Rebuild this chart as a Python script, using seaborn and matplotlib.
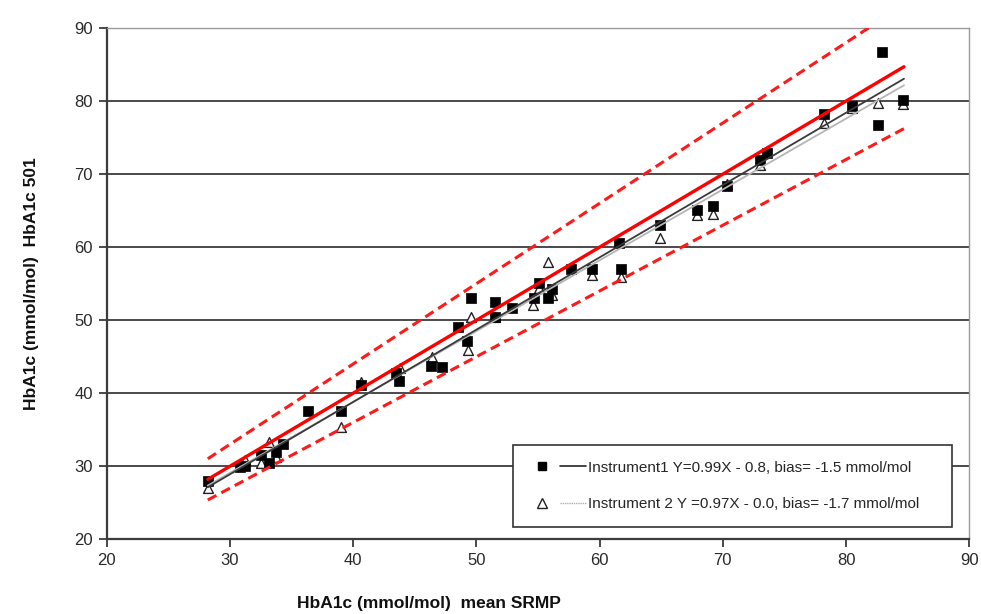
import matplotlib
matplotlib.use("Agg")
import matplotlib.pyplot as plt
from matplotlib.lines import Line2D
from matplotlib.legend_handler import HandlerTuple
import numpy as np
import pandas as pd
import seaborn as sns

# Instrument 1 (filled squares): mean SRMP vs. HbA1c 501
inst1_x = [28.2, 30.8, 31.2, 32.5, 33.2, 33.7, 34.3, 36.3, 39.0, 40.6,
           43.5, 43.7, 46.3, 47.2, 48.5, 49.2, 49.6, 51.5, 51.5, 52.9,
           54.7, 55.1, 55.8, 56.1, 57.7, 59.4, 61.6, 61.7, 64.9, 67.9,
           69.2, 70.3, 73.0, 73.6, 78.2, 80.5, 82.6, 82.9, 84.6]
inst1_y = [28.0, 29.9, 30.0, 31.5, 30.5, 32.0, 33.1, 37.5, 37.5, 41.1,
           42.7, 41.7, 43.7, 43.6, 49.1, 47.1, 53.1, 52.5, 50.5, 51.6,
           53.1, 55.1, 53.1, 54.2, 57.0, 57.0, 60.5, 57.0, 63.0, 65.1,
           65.6, 68.3, 71.9, 72.9, 78.2, 79.3, 76.7, 86.7, 80.2]

# Instrument 2 (open triangles)
inst2_x = [28.2, 31.2, 32.5, 33.2, 33.7, 39.0, 40.6, 43.8, 46.4, 49.3,
           49.6, 51.5, 54.6, 55.1, 55.8, 56.1, 59.4, 61.7, 64.9, 67.9,
           69.2, 70.3, 73.0, 78.2, 80.5, 82.6, 84.6]
inst2_y = [27.0, 30.8, 30.4, 33.3, 31.3, 35.4, 41.5, 43.4, 45.0, 45.9,
           50.4, 50.5, 52.1, 54.4, 58.0, 53.4, 56.2, 55.9, 61.3, 64.4,
           64.6, 68.7, 71.2, 77.0, 79.1, 79.7, 79.6]

# Regression fits stated in the legend: slope, intercept
fit1 = (0.99, -0.8)
fit2 = (0.97, 0.0)
label1 = "Instrument1 Y=0.99X - 0.8, bias= -1.5 mmol/mol"
label2 = "Instrument 2 Y =0.97X - 0.0, bias= -1.7 mmol/mol"

# Identity line and +/-10 % limits
limit_factors = [1.1, 0.9]

x_ticks = [20, 30, 40, 50, 60, 70, 80, 90]
y_ticks = [20, 30, 40, 50, 60, 70, 80, 90]

sns.set_theme(style="white")
plt.rcParams["font.family"] = ["Liberation Sans", "DejaVu Sans"]

fig = plt.figure(figsize=(9.81, 6.14), dpi=100)
ax = fig.add_axes([0.1088, 0.1217, 0.8793, 0.8327])

df1 = pd.DataFrame({"x": inst1_x, "y": inst1_y})
df2 = pd.DataFrame({"x": inst2_x, "y": inst2_y})

sns.scatterplot(data=df2, x="x", y="y", marker="^", s=50, facecolor="white",
                edgecolor="#222222", linewidth=1.0, ax=ax, zorder=3)
sns.scatterplot(data=df1, x="x", y="y", marker="s", s=42, color="black",
                edgecolor="black", linewidth=0.5, ax=ax, zorder=4)

x_lo = min(inst1_x + inst2_x)
x_hi = max(inst1_x + inst2_x) + 0.1
xs = np.array([x_lo, x_hi])

line_df = pd.DataFrame({
    "x": np.concatenate([xs] * 5),
    "y": np.concatenate([
        fit2[0] * xs + fit2[1],
        fit1[0] * xs + fit1[1],
        xs,
        limit_factors[0] * xs,
        limit_factors[1] * xs,
    ]),
    "line": ["fit2"] * 2 + ["fit1"] * 2 + ["identity"] * 2 + ["upper"] * 2 + ["lower"] * 2,
})

sns.lineplot(data=line_df[line_df["line"] == "fit2"], x="x", y="y",
             color="#b5b5b5", linewidth=1.3, ax=ax, zorder=5)
sns.lineplot(data=line_df[line_df["line"] == "fit1"], x="x", y="y",
             color="#3a3a3a", linewidth=1.3, ax=ax, zorder=5)
sns.lineplot(data=line_df[line_df["line"] == "identity"], x="x", y="y",
             color="#ff0000", linewidth=2.4, ax=ax, zorder=6)
for name in ["upper", "lower"]:
    sub = line_df[line_df["line"] == name]
    sns.lineplot(data=sub, x="x", y="y", color="#ff1a1a", linewidth=2.2,
                 style=sub["line"], dashes=[(3.2, 1.8)],
                 legend=False, ax=ax, zorder=6)

ax.set_xlim(20, 90)
ax.set_ylim(20, 90)
ax.set_xticks(x_ticks)
ax.set_yticks(y_ticks)
ax.set_xticklabels([str(t) for t in x_ticks])
ax.set_yticklabels([str(t) for t in y_ticks])

# Horizontal grid only
for yv in y_ticks[1:-1]:
    ax.axhline(yv, color="#3c3c3c", linewidth=1.3, zorder=1)

for side in ["left", "bottom"]:
    ax.spines[side].set_color("#3c3c3c")
    ax.spines[side].set_linewidth(1.6)
for side in ["top", "right"]:
    ax.spines[side].set_color("#9a9a9a")
    ax.spines[side].set_linewidth(1.0)

ax.tick_params(axis="both", which="major", direction="out", length=6, width=1.3,
               color="#3c3c3c", labelsize=12, labelcolor="#2a2a2a", pad=4)
ax.tick_params(axis="x", bottom=True, top=False)
ax.tick_params(axis="y", left=True, right=False)

ax.set_xlabel("HbA1c (mmol/mol)  mean SRMP", fontsize=12.5, fontweight="bold",
              color="#111111")
ax.xaxis.set_label_coords(0.374, -0.11)
ax.set_ylabel("HbA1c (mmol/mol)  HbA1c 501", fontsize=12.5, fontweight="bold",
              color="#111111")
ax.yaxis.set_label_coords(-0.078, 0.5)

h1 = (Line2D([], [], marker="s", color="black", markersize=6, linestyle="none"),
      Line2D([], [], color="#222222", linewidth=1.2))
h2 = (Line2D([], [], marker="^", markerfacecolor="white", markeredgecolor="#222222",
             markersize=6.5, linestyle="none"),
      Line2D([], [], color="#b0b0b0", linewidth=1.0, linestyle=(0, (1, 0.6))))
leg = ax.legend([h1, h2], [label1, label2],
                handler_map={tuple: HandlerTuple(ndivide=None, pad=0.4)},
                loc="lower left", bbox_to_anchor=(0.471, 0.024, 0.509, 0.16),
                mode="expand",
                frameon=True, fancybox=False, framealpha=1, edgecolor="#333333",
                fontsize=11, handlelength=3.7, handletextpad=0.15,
                labelspacing=1.45, borderpad=1.05, borderaxespad=0)
leg.get_frame().set_linewidth(1.2)
leg.set_zorder(10)

fig.savefig("out.png", dpi=100)
